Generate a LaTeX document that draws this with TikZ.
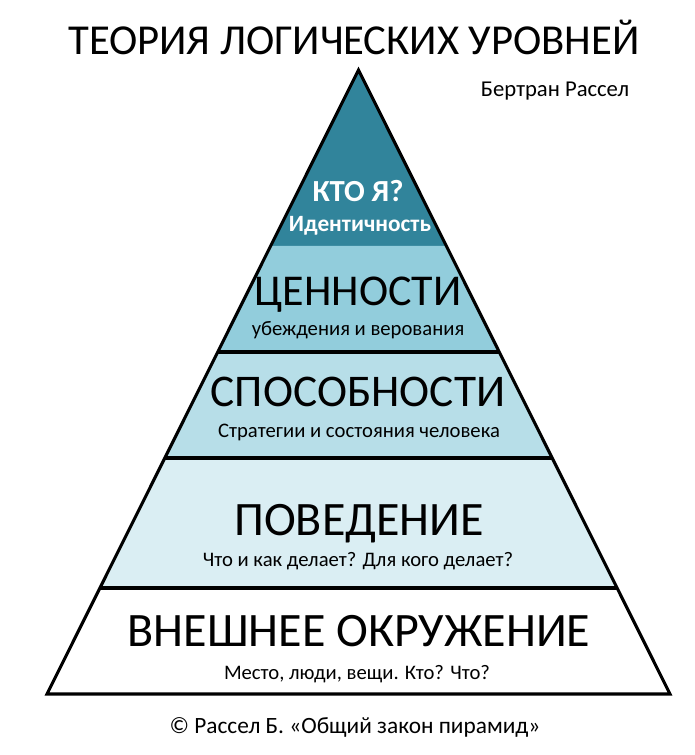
\documentclass[tikz,border=0pt]{standalone}
\usepackage{fontspec}
\setmainfont{Carlito}
\usetikzlibrary{calc}
\definecolor{tealdark}{HTML}{31849B}
\definecolor{bandb}{HTML}{92CDDC}
\definecolor{bandc}{HTML}{B7DEE8}
\definecolor{bandd}{HTML}{DAEEF3}
\tikzset{
  big/.style={font=\fontsize{34}{36}\selectfont, inner sep=0pt, anchor=base},
  bigger/.style={font=\fontsize{36}{38}\selectfont, inner sep=0pt, anchor=base},
  small/.style={font=\fontsize{15.5}{17}\selectfont, inner sep=0pt, anchor=base},
  edge/.style={line width=2.3pt, line join=miter},
  divider/.style={line width=2.3pt},
}
\begin{document}
\begin{tikzpicture}[x=0.75pt,y=-0.75pt]
\useasboundingbox (0,0) rectangle (694,755);
\fill[white] (0,0) rectangle (694,755);
\coordinate (A) at (358.5,70);
\coordinate (L) at (47,694);
\coordinate (R) at (670,694);
% band boundaries on the edges
\coordinate (l1) at ($(A)!{176/624}!(L)$); \coordinate (r1) at ($(A)!{176/624}!(R)$);
\coordinate (l2) at ($(A)!{282/624}!(L)$); \coordinate (r2) at ($(A)!{282/624}!(R)$);
\coordinate (l3) at ($(A)!{388/624}!(L)$); \coordinate (r3) at ($(A)!{388/624}!(R)$);
\coordinate (l4) at ($(A)!{518/624}!(L)$); \coordinate (r4) at ($(A)!{518/624}!(R)$);
% fills
\fill[tealdark] (A) -- (r1) -- (l1) -- cycle;
\fill[bandb] (l1) -- (r1) -- (r2) -- (l2) -- cycle;
\fill[bandc] (l2) -- (r2) -- (r3) -- (l3) -- cycle;
\fill[bandd] (l3) -- (r3) -- (r4) -- (l4) -- cycle;
% outline and dividers
\draw[divider] (l2) -- (r2);
\draw[divider] (l3) -- (r3);
\draw[divider] (l4) -- (r4);
\draw[edge] (A) -- (R) -- (L) -- cycle;
% texts
\node[font=\fontsize{32}{35}\selectfont, inner sep=0pt, anchor=base] (title) at (354,55) {ТЕОРИЯ ЛОГИЧЕСКИХ УРОВНЕЙ};
\node[font=\fontsize{17}{19}\selectfont, inner sep=0pt, anchor=base] (author) at (555,97) {Бертран Рассел};
\node[font=\bfseries\fontsize{23}{26}\selectfont, text=white, inner sep=0pt, anchor=base] (who) at (358,202) {КТО Я?};
\node[font=\bfseries\fontsize{17.5}{19}\selectfont, text=white, inner sep=0pt, anchor=base] (ident) at (360,232) {Идентичность};
\node[font=\fontsize{33}{36}\selectfont, inner sep=0pt, anchor=base] (values) at (358,305) {ЦЕННОСТИ};
\node[small] (valuessub) at (358,335) {убеждения и верования};
\node[big] (abil) at (358,406) {СПОСОБНОСТИ};
\node[small] (abilsub) at (359,437) {Стратегии и состояния человека};
\node[bigger] (beh) at (359,535) {ПОВЕДЕНИЕ};
\node[small] (behsub) at (358,566) {Что и как делает? Для кого делает?};
\node[bigger] (env) at (359,646) {ВНЕШНЕЕ ОКРУЖЕНИЕ};
\node[small] (envsub) at (357,679) {Место, люди, вещи. Кто? Что?};
\node[font=\fontsize{17.5}{19}\selectfont, inner sep=0pt, anchor=base] (copy) at (355,733) {© Рассел Б. «Общий закон пирамид»};
\end{tikzpicture}
\end{document}
